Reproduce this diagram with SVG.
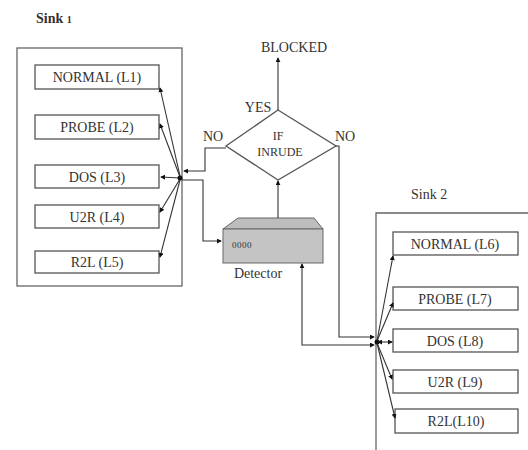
<svg xmlns="http://www.w3.org/2000/svg" width="528" height="450" viewBox="0 0 528 450" font-family="'Liberation Serif', 'Times New Roman', 'DejaVu Serif', serif">
  <style>
    text { font-family: "Liberation Serif", "Times New Roman", "DejaVu Serif", serif; fill: #333; }
    .lbl { font-size: 14px; text-anchor: middle; }
    .node rect { fill: #fff; stroke: #555; stroke-width: 1.3; }
    .sink { fill: none; stroke: #666; stroke-width: 1.3; }
    .conn { fill: none; stroke: #333; stroke-width: 1.1; }
  </style>
  <defs>
    <marker id="arr" viewBox="0 0 6 6" refX="5" refY="3" markerWidth="5" markerHeight="5" orient="auto-start-reverse" markerUnits="userSpaceOnUse">
      <path d="M0,0 L6,3 L0,6 Z" fill="#111"/>
    </marker>
  </defs>
  <rect width="528" height="450" fill="#fff"/>

  <!-- Sink 1 -->
  <g id="sink1">
    <text x="36" y="23" font-size="14" font-weight="bold">Sink <tspan font-size="10">1</tspan></text>
    <rect class="sink" x="17" y="48" width="165" height="238"/>
  </g>
  <g id="normal-l1" class="node"><rect x="35" y="65" width="124" height="24"/><text class="lbl" x="97" y="82">NORMAL (L1)</text></g>
  <g id="probe-l2" class="node"><rect x="35" y="115" width="124" height="24"/><text class="lbl" x="97" y="132">PROBE (L2)</text></g>
  <g id="dos-l3" class="node"><rect x="35" y="165" width="124" height="23"/><text class="lbl" x="97" y="182">DOS (L3)</text></g>
  <g id="u2r-l4" class="node"><rect x="35" y="205" width="124" height="23"/><text class="lbl" x="97" y="222">U2R (L4)</text></g>
  <g id="r2l-l5" class="node"><rect x="35" y="251" width="124" height="22"/><text class="lbl" x="97" y="267">R2L (L5)</text></g>

  <!-- Decision -->
  <g id="decision">
    <polygon points="278,110 336,146 278,180 226,146" fill="#fff" stroke="#555" stroke-width="1.3"/>
    <text x="278" y="140" font-size="12" text-anchor="middle">IF</text>
    <text x="280" y="156" font-size="12" text-anchor="middle">INRUDE</text>
  </g>
  <g id="blocked"><text class="lbl" x="294" y="52">BLOCKED</text></g>
  <text class="lbl" x="258" y="112">YES</text>
  <text class="lbl" x="213" y="141">NO</text>
  <text class="lbl" x="345" y="141">NO</text>

  <!-- Detector -->
  <g id="detector">
    <polygon points="238,218 314,218 323,229 223,229" fill="#bdbdbd" stroke="#666" stroke-width="1"/>
    <rect x="223" y="229" width="100" height="34" fill="#c4c4c4" stroke="#666" stroke-width="1"/>
    <text x="232" y="248" font-size="9" letter-spacing="0.5">0000</text>
    <text class="lbl" x="258" y="278">Detector</text>
  </g>

  <!-- Sink 2 -->
  <g id="sink2">
    <text x="411" y="199" font-size="14">Sink 2</text>
    <path class="sink" d="M376,450 V213 H528"/>
  </g>
  <g id="normal-l6" class="node"><rect x="393" y="232" width="125" height="23"/><text class="lbl" x="455" y="249">NORMAL (L6)</text></g>
  <g id="probe-l7" class="node"><rect x="393" y="287" width="125" height="23"/><text class="lbl" x="455" y="304">PROBE (L7)</text></g>
  <g id="dos-l8" class="node"><rect x="393" y="329" width="125" height="23"/><text class="lbl" x="455" y="346">DOS (L8)</text></g>
  <g id="u2r-l9" class="node"><rect x="393" y="370" width="125" height="23"/><text class="lbl" x="455" y="387">U2R (L9)</text></g>
  <g id="r2l-l10" class="node"><rect x="395" y="409" width="123" height="24"/><text class="lbl" x="456" y="426">R2L(L10)</text></g>

  <!-- Connectors -->
  <g id="connectors" class="conn">
    <!-- hub 1 to Sink 1 classes -->
    <path d="M180,176 L160,88" marker-end="url(#arr)"/>
    <path d="M180,177 L160,124" marker-end="url(#arr)"/>
    <path d="M180,178 L161,177" marker-end="url(#arr)"/>
    <path d="M180,179 L160,212" marker-end="url(#arr)"/>
    <path d="M180,180 L160,257" marker-end="url(#arr)"/>
    <circle cx="180" cy="178" r="2.5" fill="#111" stroke="none"/>
    <!-- decision outputs -->
    <path d="M278,110 V58" marker-end="url(#arr)"/>
    <path d="M226,148 H205 V171 H184" marker-end="url(#arr)"/>
    <path d="M336,146 H339 V337 H374" marker-end="url(#arr)"/>
    <!-- hub 1 to detector -->
    <path d="M182,180 H203 V241 H221" marker-end="url(#arr)"/>
    <!-- detector to decision -->
    <path d="M278,218 V181" marker-end="url(#arr)"/>
    <!-- detector to hub 2 -->
    <path d="M302,264 V345 H374" marker-start="url(#arr)" marker-end="url(#arr)"/>
    <!-- hub 2 to Sink 2 classes -->
    <path d="M377,341 L393,256" marker-end="url(#arr)"/>
    <path d="M377,341 L393,303" marker-end="url(#arr)"/>
    <path d="M378,342 L392,342" marker-start="url(#arr)" marker-end="url(#arr)"/>
    <path d="M377,343 L392,379" marker-end="url(#arr)"/>
    <path d="M377,343 L395,418" marker-end="url(#arr)"/>
    <circle cx="377" cy="342" r="2.5" fill="#111" stroke="none"/>
  </g>
</svg>
